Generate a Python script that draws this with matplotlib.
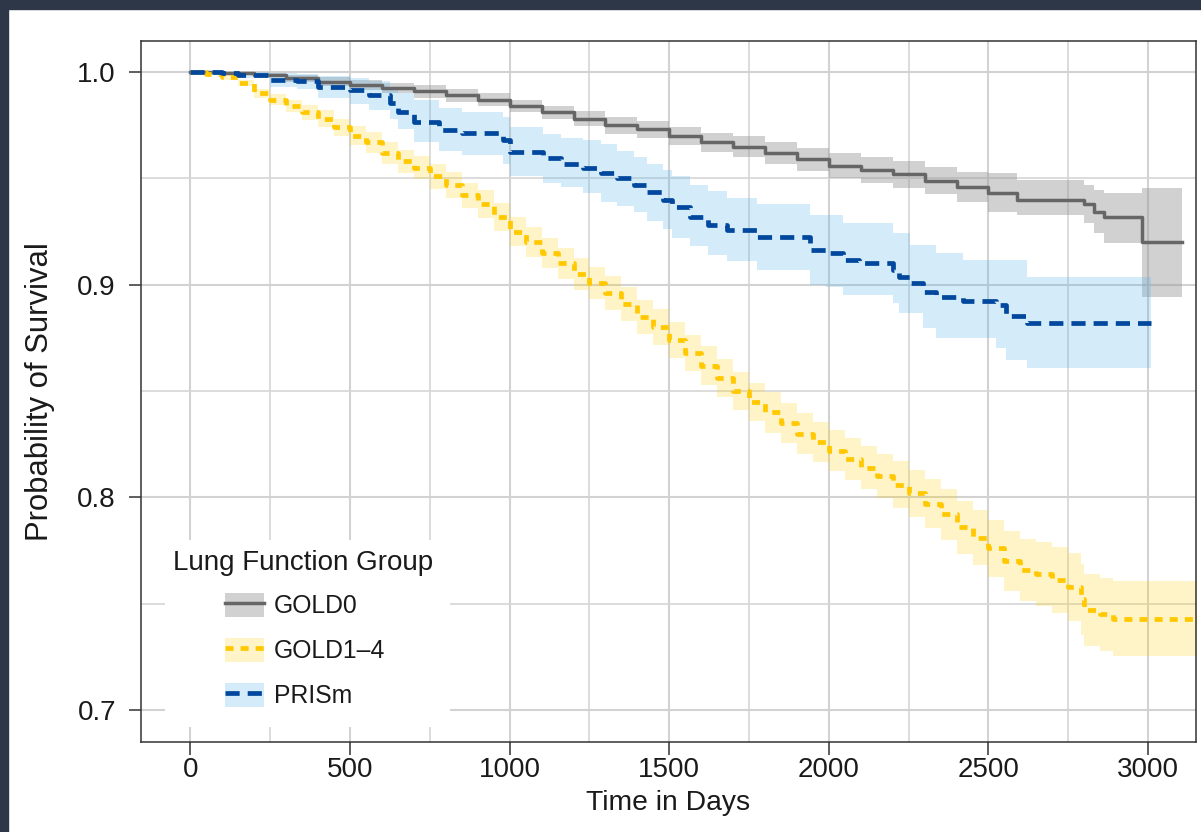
import matplotlib
matplotlib.use("Agg")
import matplotlib.pyplot as plt
from matplotlib.patches import Patch, Rectangle
from matplotlib.lines import Line2D
from matplotlib.ticker import MultipleLocator

plt.rcParams['font.family'] = ['Liberation Sans', 'DejaVu Sans']

# GOLD0 survival curve
gold0_days = [0, 100, 200, 300, 400, 500, 600, 700, 800, 900, 1000, 1100, 1200, 1300, 1400,
              1500, 1600, 1700, 1800, 1900, 2000, 2100, 2200, 2300, 2400, 2500, 2590, 2800,
              2832, 2863, 2982, 3107]
gold0_surv = [1.000, 0.9995, 0.9985, 0.997, 0.9955, 0.994, 0.9925, 0.991, 0.989, 0.987, 0.984,
              0.981, 0.978, 0.975, 0.973, 0.970, 0.967, 0.965, 0.962, 0.959, 0.956, 0.954,
              0.952, 0.949, 0.946, 0.943, 0.940, 0.938, 0.934, 0.932, 0.920, 0.920]
gold0_hi = [1.000, 1.000, 0.9995, 0.9985, 0.9975, 0.9965, 0.995, 0.994, 0.992, 0.990, 0.987,
            0.984, 0.9815, 0.979, 0.977, 0.974, 0.9715, 0.970, 0.967, 0.9645, 0.962, 0.960,
            0.958, 0.9555, 0.953, 0.9525, 0.9492, 0.9469, 0.9445, 0.943, 0.9455, 0.9455]
gold0_lo = [1.000, 0.999, 0.9975, 0.9955, 0.9935, 0.9915, 0.990, 0.988, 0.986, 0.984, 0.981,
            0.978, 0.9745, 0.971, 0.969, 0.9655, 0.9625, 0.960, 0.957, 0.9535, 0.950, 0.948,
            0.9455, 0.9425, 0.939, 0.934, 0.9328, 0.929, 0.9243, 0.9196, 0.894, 0.894]

# GOLD1-4 survival curve
gold14_days = [0, 50, 100, 150, 200, 250, 300, 350, 400, 450, 500, 550, 600, 650, 700, 750,
               800, 850, 900, 950, 1000, 1050, 1100, 1150, 1200, 1250, 1300, 1350, 1400, 1450,
               1500, 1550, 1600, 1650, 1700, 1750, 1800, 1850, 1900, 1950, 2000, 2050, 2100,
               2150, 2200, 2250, 2300, 2350, 2400, 2450, 2500, 2550, 2600, 2650, 2700, 2750,
               2790, 2800, 2850, 2890, 3200]
gold14_surv = [1.000, 0.999, 0.9975, 0.995, 0.990, 0.987, 0.984, 0.981, 0.978, 0.974, 0.970,
               0.967, 0.962, 0.958, 0.955, 0.951, 0.947, 0.942, 0.938, 0.932, 0.925, 0.920,
               0.915, 0.910, 0.905, 0.901, 0.896, 0.891, 0.885, 0.880, 0.874, 0.868, 0.862,
               0.856, 0.850, 0.845, 0.840, 0.835, 0.830, 0.826, 0.822, 0.818, 0.814, 0.810,
               0.806, 0.802, 0.797, 0.792, 0.786, 0.781, 0.776, 0.770, 0.766, 0.764, 0.761,
               0.758, 0.752, 0.747, 0.745, 0.743, 0.743]
gold14_hi = [1.000, 0.9995, 0.9985, 0.9965, 0.992, 0.9895, 0.987, 0.9845, 0.982, 0.978, 0.9745,
             0.972, 0.967, 0.9635, 0.9605, 0.957, 0.953, 0.948, 0.9445, 0.9385, 0.932, 0.927,
             0.922, 0.9175, 0.9125, 0.9085, 0.904, 0.899, 0.893, 0.8885, 0.8825, 0.8765, 0.871,
             0.865, 0.859, 0.854, 0.8495, 0.8445, 0.8395, 0.8355, 0.8315, 0.828, 0.824, 0.8205,
             0.817, 0.813, 0.8085, 0.804, 0.7985, 0.794, 0.7895, 0.784, 0.7805, 0.779, 0.7765,
             0.774, 0.7685, 0.764, 0.762, 0.7605, 0.7605]
gold14_lo = [1.000, 0.9985, 0.9965, 0.9935, 0.988, 0.9845, 0.981, 0.9775, 0.974, 0.970, 0.9655,
             0.962, 0.957, 0.9525, 0.9495, 0.945, 0.941, 0.936, 0.9315, 0.9255, 0.918, 0.913,
             0.908, 0.9025, 0.8975, 0.8935, 0.888, 0.883, 0.877, 0.8715, 0.8655, 0.8595, 0.853,
             0.847, 0.841, 0.836, 0.8305, 0.8255, 0.8205, 0.8165, 0.8125, 0.808, 0.804, 0.7995,
             0.795, 0.791, 0.7855, 0.780, 0.7735, 0.768, 0.7625, 0.756, 0.7515, 0.749, 0.7455,
             0.742, 0.7355, 0.730, 0.728, 0.7255, 0.7255]

# PRISm survival curve
prism_days = [0, 100, 150, 250, 335, 400, 500, 560, 625, 650, 700, 780, 850, 980, 1000, 1105,
              1160, 1230, 1285, 1335, 1390, 1430, 1480, 1510, 1565, 1620, 1680, 1775, 1940, 1990,
              2045, 2095, 2200, 2220, 2255, 2295, 2335, 2420, 2525, 2555, 2620, 3010]
prism_surv = [1.000, 0.9995, 0.9986, 0.9962, 0.9958, 0.993, 0.9915, 0.989, 0.9854, 0.981,
              0.9765, 0.9727, 0.9713, 0.968, 0.9624, 0.9596, 0.957, 0.955, 0.9525, 0.950,
              0.9469, 0.9436, 0.9398, 0.9365, 0.9318, 0.928, 0.9257, 0.9224, 0.9163, 0.915,
              0.9116, 0.910, 0.907, 0.9036, 0.9008, 0.8966, 0.894, 0.8923, 0.8905, 0.8853,
              0.882, 0.882]
prism_hi = [1.000, 1.000, 1.000, 0.9995, 0.999, 0.998, 0.997, 0.996, 0.993, 0.990, 0.987, 0.983,
            0.981, 0.979, 0.974, 0.971, 0.969, 0.968, 0.966, 0.963, 0.960, 0.957, 0.954, 0.951,
            0.947, 0.944, 0.941, 0.938, 0.933, 0.9328, 0.929, 0.929, 0.9243, 0.9243, 0.9187,
            0.9187, 0.9149, 0.9116, 0.9116, 0.9116, 0.9036, 0.9036]
prism_lo = [1.000, 0.999, 0.997, 0.993, 0.992, 0.988, 0.985, 0.982, 0.978, 0.973, 0.967, 0.963,
            0.961, 0.957, 0.951, 0.948, 0.946, 0.943, 0.939, 0.937, 0.934, 0.930, 0.926, 0.922,
            0.918, 0.914, 0.911, 0.907, 0.900, 0.899, 0.8952, 0.8952, 0.8914, 0.8867, 0.8867,
            0.8796, 0.8749, 0.8749, 0.8702, 0.8646, 0.8608, 0.8608]

groups = ['GOLD0', 'GOLD1\u20134', 'PRISm']
y_ticks = [0.7, 0.8, 0.9, 1.0]
x_ticks = [0, 500, 1000, 1500, 2000, 2500, 3000]

fig = plt.figure(figsize=(12.01, 8.32), dpi=100)
ax = fig.add_axes([0.1174, 0.1082, 0.8784, 0.8425])

# dark frame at top and left of the screenshot
fig.add_artist(Rectangle((0, 1 - 9 / 832), 1, 9 / 832, transform=fig.transFigure,
                         color='#2d3748', zorder=10))
fig.add_artist(Rectangle((0, 0), 8 / 1201, 1, transform=fig.transFigure,
                         color='#2d3748', zorder=10))

# confidence bands
ax.fill_between(gold0_days, gold0_lo, gold0_hi, step='post', color='#999999', alpha=0.45, lw=0)
ax.fill_between(gold14_days, gold14_lo, gold14_hi, step='post', color='#FFD000', alpha=0.22, lw=0)
ax.fill_between(prism_days, prism_lo, prism_hi, step='post', color='#56B4E9', alpha=0.25, lw=0)

# survival steps
ax.step(gold0_days, gold0_surv, where='post', color='#666666', lw=2.5)
ax.step(gold14_days, gold14_surv, where='post', color='#FFC800', lw=3.4,
        dashes=(1.7, 1.5))
ax.step(prism_days, prism_surv, where='post', color='#00479D', lw=3.4,
        dashes=(3.0, 1.7))

ax.set_xlim(-155, 3150)
ax.set_ylim(0.685, 1.0146)
ax.set_xticks(x_ticks)
ax.set_yticks(y_ticks)
ax.set_yticklabels([f'{v:.1f}' for v in y_ticks])
ax.xaxis.set_minor_locator(MultipleLocator(250))
ax.yaxis.set_minor_locator(MultipleLocator(0.05))

ax.set_axisbelow(True)
ax.grid(which='major', color='#d2d2d2', lw=1.5)
ax.grid(which='minor', color='#d6d6d6', lw=1.2)
ax.tick_params(which='minor', length=0)
ax.tick_params(axis='x', which='major', length=9, width=1.1, color='#333333',
               labelsize=20, pad=2, labelcolor='#1a1a1a')
ax.tick_params(axis='y', which='major', length=9, width=1.1, color='#333333',
               labelsize=20, pad=9, labelcolor='#1a1a1a')
for s in ax.spines.values():
    s.set_color('#333333')
    s.set_linewidth(1.1)

ax.set_xlabel('Time in Days', fontsize=20.3, color='#1a1a1a', labelpad=5)
ax.set_ylabel('Probability of Survival', fontsize=22.3, color='#1a1a1a', labelpad=16)

# white box behind legend hides the grid
ax.add_patch(Rectangle((0.0227, 0.0214), 0.270, 0.267, transform=ax.transAxes,
                       facecolor='white', edgecolor='none', zorder=0.8))
ax.text(0.0303, 0.2553, 'Lung Function Group', transform=ax.transAxes, fontsize=20,
        color='#1a1a1a', ha='left', va='center')

handles = [
    (Patch(facecolor='#999999', alpha=0.45, lw=0), Line2D([], [], color='#666666', lw=2.5)),
    (Patch(facecolor='#FFD000', alpha=0.22, lw=0),
     Line2D([], [], color='#FFC800', lw=3.4, dashes=(1.7, 1.5))),
    (Patch(facecolor='#56B4E9', alpha=0.25, lw=0),
     Line2D([], [], color='#00479D', lw=3.4, dashes=(3.0, 1.7))),
]
leg = ax.legend(handles, groups, loc='upper left', bbox_to_anchor=(0.0796, 0.2125),
                frameon=False, borderpad=0, borderaxespad=0, fontsize=17.8,
                handlelength=1.56, handleheight=1.1, handletextpad=0.42,
                labelspacing=0.8)
for t in leg.get_texts():
    t.set_color('#1a1a1a')

fig.savefig('out.png', dpi=100, facecolor='white')
